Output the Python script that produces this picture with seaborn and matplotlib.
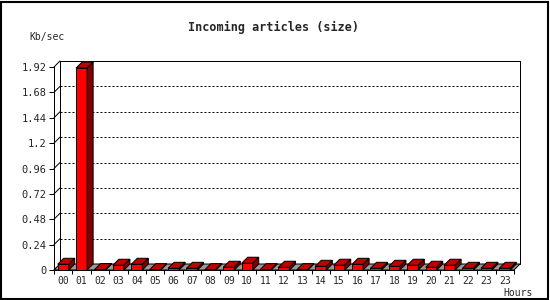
import matplotlib
matplotlib.use("Agg")
import matplotlib.pyplot as plt
from matplotlib.patches import Polygon, Rectangle
import seaborn as sns
import pandas as pd

# ---- data ----
hour_labels = ["00", "01", "02", "03", "04", "05", "06", "07", "08", "09",
               "10", "11", "12", "13", "14", "15", "16", "17", "18", "19",
               "20", "21", "22", "23", "23"]
kb_per_sec = [0.054, 1.91, 0.004, 0.045, 0.054, 0.003, 0.016, 0.016, 0.003, 0.026,
              0.064, 0.003, 0.026, 0.003, 0.035, 0.045, 0.054, 0.016, 0.035, 0.045,
              0.026, 0.045, 0.016, 0.016, 0.016]
y_ticks = [0, 0.24, 0.48, 0.72, 0.96, 1.2, 1.44, 1.68, 1.92]
y_tick_labels = ["0", "0.24", "0.48", "0.72", "0.96", "1.2", "1.44", "1.68", "1.92"]
title = "Incoming articles (size)"
y_unit = "Kb/sec"
x_unit = "Hours"

df = pd.DataFrame({"slot": list(range(len(kb_per_sec))), "kb": kb_per_sec})

sns.set_theme(style="white")
plt.rcParams["font.family"] = ["DejaVu Sans Mono"]

W, H, DPI = 550, 300, 100
fig = plt.figure(figsize=(W / DPI, H / DPI), dpi=DPI)
fig.patch.set_facecolor("white")

# plot area in pixels
left_px, right_px, bottom_px, top_px = 54, 514, 270, 67
ax = fig.add_axes([left_px / W, 1 - bottom_px / H,
                   (right_px - left_px) / W, (bottom_px - top_px) / H])
ax.set_facecolor("none")

n = len(kb_per_sec)
ymax = y_ticks[-1]
xmin, xmax = -0.5, n - 0.5
depth = 6  # px
dx = depth * (xmax - xmin) / (right_px - left_px)
dy = depth * ymax / (bottom_px - top_px)
LW = 0.72

sns.barplot(data=df, x="slot", y="kb", order=list(range(n)), ax=ax,
            color="#FF0000", saturation=1, width=0.6,
            edgecolor="black", linewidth=LW, zorder=5)
ax.set_xlim(xmin, xmax)
ax.set_ylim(0, ymax)

# back wall
wall = Polygon([(xmin + dx, dy), (xmax + dx, dy), (xmax + dx, ymax + dy), (xmin + dx, ymax + dy)],
               closed=True, facecolor="white", edgecolor="black", linewidth=LW,
               clip_on=False, zorder=1)
ax.add_patch(wall)
# grid on back wall + diagonals on the side
for v in y_ticks[1:-1]:
    ax.plot([xmin + dx, xmax + dx], [v + dy, v + dy], color="black", lw=LW,
            linestyle=(0, (2, 2)), clip_on=False, zorder=2)
for v in y_ticks:
    ax.plot([xmin, xmin + dx], [v, v + dy], color="black", lw=LW, clip_on=False, zorder=2)

# floor
floor = Polygon([(xmin, 0), (xmax, 0), (xmax + dx, dy), (xmin + dx, dy)],
                closed=True, facecolor="#999999", edgecolor="black", linewidth=LW,
                clip_on=False, zorder=3)
ax.add_patch(floor)

# 3D faces of the bars
for p in list(ax.patches):
    if not isinstance(p, Rectangle):
        continue
    x0, w, h = p.get_x(), p.get_width(), p.get_height()
    top = Polygon([(x0, h), (x0 + w, h), (x0 + w + dx, h + dy), (x0 + dx, h + dy)],
                  closed=True, facecolor="#C00000", edgecolor="black", linewidth=LW,
                  clip_on=False, zorder=5)
    side = Polygon([(x0 + w, 0), (x0 + w + dx, dy), (x0 + w + dx, h + dy), (x0 + w, h)],
                   closed=True, facecolor="#800000", edgecolor="black", linewidth=LW,
                   clip_on=False, zorder=5)
    ax.add_patch(top)
    ax.add_patch(side)

# axes styling
for s in ["top", "right"]:
    ax.spines[s].set_visible(False)
for s in ["left", "bottom"]:
    ax.spines[s].set_visible(True)
    ax.spines[s].set_color("black")
    ax.spines[s].set_linewidth(LW)
    ax.spines[s].set_zorder(6)

ax.set_yticks(y_ticks, y_tick_labels)
ax.set_xticks(list(range(n)), hour_labels)
ax.set_xticks([i - 0.5 for i in range(n + 1)], minor=True)
ax.tick_params(axis="y", which="major", direction="out", length=3.6, width=LW,
               color="black", labelsize=7.5, pad=2, left=True)
ax.tick_params(axis="x", which="major", length=0, labelsize=7, pad=4)
ax.tick_params(axis="x", which="minor", direction="out", length=3, width=LW,
               color="black", bottom=True)
ax.set_xlabel("")
ax.set_ylabel("")

# texts
fig.text(274 / W, 1 - 27 / H, title, ha="center", va="center",
         fontsize=8.5, fontweight="bold", family="DejaVu Sans Mono")
fig.text(47 / W, 1 - 37 / H, y_unit, ha="center", va="center",
         fontsize=7, family="DejaVu Sans Mono")
fig.text(533 / W, 1 - 293 / H, x_unit, ha="right", va="center",
         fontsize=7, family="DejaVu Sans Mono")

# outer frame
frame = Rectangle((1 / W, 1 / H), (W - 3) / W, (H - 3) / H, transform=fig.transFigure,
                  fill=False, edgecolor="black", linewidth=1.5)
fig.add_artist(frame)

fig.savefig("out.png", dpi=DPI, facecolor="white")
